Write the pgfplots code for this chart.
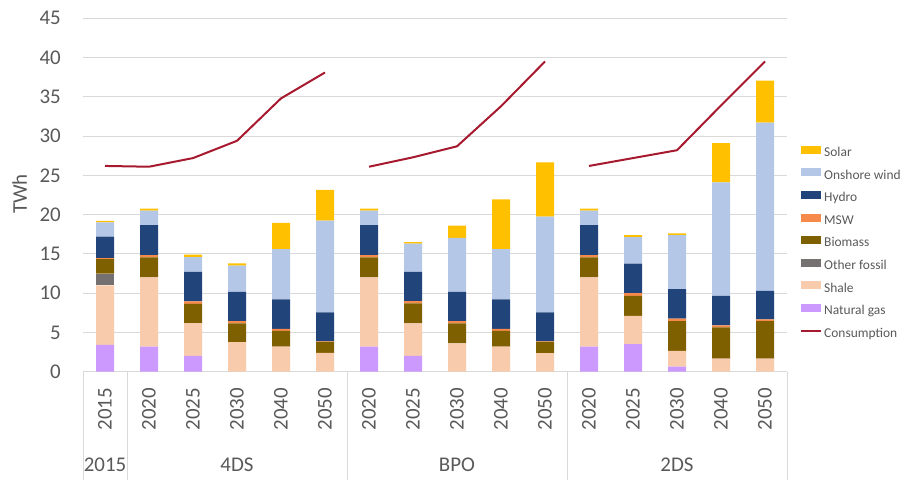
\documentclass[border=0pt]{standalone}
\usepackage{fontspec}
\setmainfont{Carlito}
\usepackage{pgfplots}
\usepackage{pgfplotstable}
\pgfplotsset{compat=1.18}
\definecolor{csolar}{HTML}{FFC000}
\definecolor{cwind}{HTML}{B4C7E7}
\definecolor{chydro}{HTML}{21457A}
\definecolor{cmsw}{HTML}{F58A4B}
\definecolor{cbio}{HTML}{7F6000}
\definecolor{cother}{HTML}{767171}
\definecolor{cshale}{HTML}{F8CBAD}
\definecolor{cgas}{HTML}{CC99FF}
\definecolor{ccons}{HTML}{A6192E}
\definecolor{cgrid}{HTML}{D9D9D9}
\definecolor{ctext}{HTML}{595959}
\pgfplotsset{
  legbar/.style={legend image code/.code={\fill[##1] (0bp,0bp) rectangle (20bp,8bp);}},
  leglin/.style={legend image code/.code={\draw[##1] (0bp,4bp) -- (20bp,4bp);}},
}

\pgfplotstableread{
x gas shale other bio msw hydro wind solar
0 3.4 7.6 1.5 1.85 0.1 2.75 1.8 0.2
1 3.2 8.8 0 2.55 0.3 3.8 1.85 0.25
2 2.0 4.2 0 2.45 0.3 3.75 1.9 0.3
3 0 3.75 0 2.4 0.3 3.7 3.35 0.3
4 0 3.2 0 2.0 0.25 3.75 6.4 3.35
5 0 2.4 0 1.4 0.05 3.7 11.7 3.9
6 3.2 8.8 0 2.55 0.3 3.8 1.85 0.25
7 2.0 4.15 0 2.55 0.3 3.7 3.6 0.2
8 0 3.6 0 2.55 0.3 3.7 6.9 1.55
9 0 3.2 0 2.0 0.25 3.75 6.4 6.35
10 0 2.35 0 1.45 0.05 3.7 12.2 6.9
11 3.2 8.8 0 2.55 0.3 3.8 1.85 0.25
12 3.5 3.6 0 2.55 0.35 3.75 3.4 0.25
13 0.65 2.0 0 3.8 0.3 3.75 6.9 0.2
14 0 1.65 0 4.0 0.25 3.75 14.45 5.0
15 0 1.65 0 4.8 0.2 3.65 21.4 5.35
}\gen

\pgfplotstableread{
x y
0 26.2
1 26.1
2 27.2
3 29.4
4 34.8
5 38.1
}\consA
\pgfplotstableread{
x y
6 26.1
7 27.3
8 28.7
9 33.8
10 39.5
}\consB
\pgfplotstableread{
x y
11 26.2
12 27.2
13 28.2
14 33.9
15 39.5
}\consC

\begin{document}
\begin{tikzpicture}
\useasboundingbox (0,0) rectangle (903bp,480bp);
\begin{axis}[
  at={(83bp,108.3bp)}, anchor=south west,
  scale only axis, width=704bp, height=353.4bp,
  xmin=-0.5, xmax=15.5, ymin=0, ymax=45,
  ybar stacked, bar width=18bp,
  axis x line*=bottom, axis y line*=left,
  x axis line style={draw=cgrid, line width=0.8bp},
  y axis line style={draw=none},
  major tick length=0pt,
  tick style={draw=none},
  ytick={0,5,...,45},
  ymajorgrids, grid style={cgrid, line width=0.8bp},
  xtick={0,...,15},
  xticklabels={2015,2020,2025,2030,2040,2050,2020,2025,2030,2040,2050,2020,2025,2030,2040,2050},
  xticklabel style={rotate=90, anchor=east, inner sep=0pt, font=\fontsize{21}{25}\selectfont, text=ctext},
  xticklabel shift=16bp,
  yticklabel style={anchor=east, inner sep=0pt, font=\fontsize{21}{25}\selectfont, text=ctext},
  yticklabel shift=22bp,
  /pgf/number format/assume math mode=true,
  clip=false,
  reverse legend,
  legend cell align=left,
  legend style={at={(1.0185,0.649)}, anchor=north west, draw=none, fill=none,
    inner sep=0pt, row sep=0pt, column sep=0pt,
    font=\fontsize{13.5}{15}\selectfont,
    nodes={inner xsep=2bp, inner ysep=0pt, text height=14bp, text depth=8.6bp, text=ctext}},
]
\addlegendimage{ccons, line width=2bp, leglin}
\addlegendentry{Consumption}
\addplot[fill=cgas, draw=none, legbar] table[x=x, y=gas] {\gen};
\addlegendentry{Natural gas}
\addplot[fill=cshale, draw=none, legbar] table[x=x, y=shale] {\gen};
\addlegendentry{Shale}
\addplot[fill=cother, draw=none, legbar] table[x=x, y=other] {\gen};
\addlegendentry{Other fossil}
\addplot[fill=cbio, draw=none, legbar] table[x=x, y=bio] {\gen};
\addlegendentry{Biomass}
\addplot[fill=cmsw, draw=none, legbar] table[x=x, y=msw] {\gen};
\addlegendentry{MSW}
\addplot[fill=chydro, draw=none, legbar] table[x=x, y=hydro] {\gen};
\addlegendentry{Hydro}
\addplot[fill=cwind, draw=none, legbar] table[x=x, y=wind] {\gen};
\addlegendentry{Onshore wind}
\addplot[fill=csolar, draw=none, legbar] table[x=x, y=solar] {\gen};
\addlegendentry{Solar}

\draw[cgrid, line width=0.8bp] (axis cs:-0.5,0) -- ++(0bp,-108.3bp);
\draw[cgrid, line width=0.8bp] (axis cs:0.5,0) -- ++(0bp,-108.3bp);
\draw[cgrid, line width=0.8bp] (axis cs:5.5,0) -- ++(0bp,-108.3bp);
\draw[cgrid, line width=0.8bp] (axis cs:10.5,0) -- ++(0bp,-108.3bp);
\draw[cgrid, line width=0.8bp] (axis cs:15.5,0) -- ++(0bp,-108.3bp);
\node[anchor=base, text=ctext, font=\fontsize{21}{25}\selectfont, yshift=-100bp] at (axis cs:0,0) {2015};
\node[anchor=base, text=ctext, font=\fontsize{21}{25}\selectfont, yshift=-100bp] at (axis cs:3,0) {4DS};
\node[anchor=base, text=ctext, font=\fontsize{21}{25}\selectfont, yshift=-100bp] at (axis cs:8,0) {BPO};
\node[anchor=base, text=ctext, font=\fontsize{21}{25}\selectfont, yshift=-100bp] at (axis cs:13,0) {2DS};
\end{axis}
\begin{axis}[
  at={(83bp,108.3bp)}, anchor=south west,
  scale only axis, width=704bp, height=353.4bp,
  xmin=-0.5, xmax=15.5, ymin=0, ymax=45,
  hide axis,
]
\addplot[ccons, line width=2bp] table[x=x, y=y] {\consA};
\addplot[ccons, line width=2bp] table[x=x, y=y] {\consB};
\addplot[ccons, line width=2bp] table[x=x, y=y] {\consC};
\end{axis}
\node[rotate=90, text=ctext, font=\fontsize{21}{25}\selectfont] at (19.5bp,286bp) {TWh};
\end{tikzpicture}
\end{document}
